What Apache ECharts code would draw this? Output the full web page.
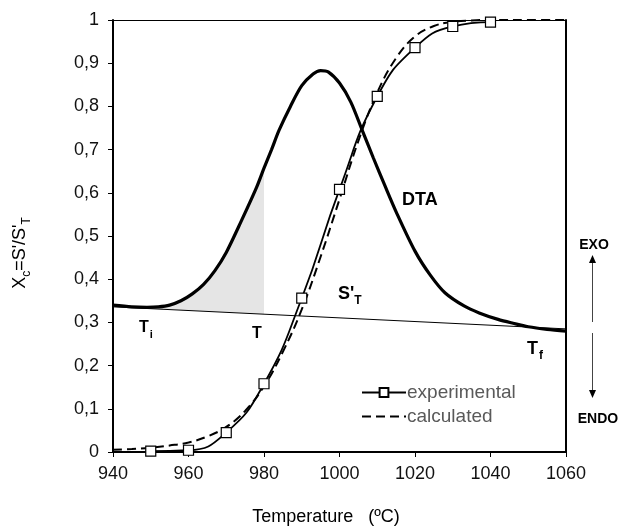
<!DOCTYPE html>
<html>
<head>
<meta charset="utf-8">
<script src="https://cdn.jsdelivr.net/npm/echarts@6/dist/echarts.min.js"></script>
<style>
html,body{margin:0;padding:0;background:#fff;}
#chart{width:622px;height:528px;}
</style>
</head>
<body>
<div id="chart"></div>
<script>
// ---- data ----
const xTicks = [940, 960, 980, 1000, 1020, 1040, 1060];
const yTicks = [0, 0.1, 0.2, 0.3, 0.4, 0.5, 0.6, 0.7, 0.8, 0.9, 1];

const expT = [950, 960, 970, 980, 990, 1000, 1010, 1020, 1030, 1040];
const expX = [0.002, 0.004, 0.045, 0.158, 0.356, 0.608, 0.823, 0.936, 0.985, 0.995];

const calcT = [940, 945, 950, 955, 960, 965, 970, 975, 980, 985, 990, 995, 1000, 1005, 1010, 1015, 1020, 1025, 1030, 1035, 1040, 1050, 1060];
const calcX = [0.005, 0.007, 0.010, 0.015, 0.022, 0.036, 0.058, 0.095, 0.152, 0.232, 0.330, 0.452, 0.585, 0.720, 0.832, 0.912, 0.962, 0.986, 0.996, 0.999, 1.0, 1.0, 1.0];

const dtaT = [940, 945, 949, 952, 955, 958, 961, 964, 967, 970, 974, 978, 980, 982, 984, 987, 990, 993, 995, 997, 1000, 1003, 1006, 1009, 1012, 1015, 1020, 1024, 1028, 1033, 1037, 1042, 1046, 1050, 1055, 1060];
const dtaV = [0.340, 0.336, 0.335, 0.336, 0.340, 0.350, 0.366, 0.388, 0.420, 0.462, 0.535, 0.612, 0.657, 0.700, 0.745, 0.800, 0.848, 0.875, 0.883, 0.880, 0.854, 0.810, 0.745, 0.680, 0.617, 0.556, 0.465, 0.410, 0.368, 0.338, 0.322, 0.307, 0.298, 0.290, 0.284, 0.280];

const baseT = [940, 1060];
const baseV = [0.336, 0.285];

const fillFrom = 952, fillTo = 980;

// ---- helpers ----
const zip = (a, b) => a.map((v, i) => [v, b[i]]);
function baseAt(t) {
  const f = (t - baseT[0]) / (baseT[1] - baseT[0]);
  return baseV[0] + f * (baseV[1] - baseV[0]);
}

const chart = echarts.init(document.getElementById('chart'));
const font = 'Liberation Sans, Arial, sans-serif';

const option = {
  animation: false,
  grid: { left: 113, right: 56, top: 20, bottom: 76, containLabel: false, outerBoundsMode: 'none' },
  xAxis: [{
    type: 'value', min: xTicks[0], max: xTicks[xTicks.length - 1], interval: 20,
    name: 'Temperature   (ºC)', nameLocation: 'middle', nameGap: 56,
    nameTextStyle: { fontFamily: font, fontSize: 18, color: '#000', padding: [0, 27, 0, 0] },
    axisLine: { lineStyle: { color: '#000', width: 2 } },
    axisTick: { show: true, length: 5, lineStyle: { color: '#000', width: 1 } },
    axisLabel: { fontFamily: font, fontSize: 18, color: '#111', margin: 13, formatter: v => String(v) },
    splitLine: { show: false }
  }, {
    type: 'value', position: 'top', min: xTicks[0], max: xTicks[xTicks.length - 1],
    axisLine: { show: true, onZero: false, lineStyle: { color: '#000', width: 1 } },
    axisTick: { show: false }, axisLabel: { show: false }, splitLine: { show: false }
  }],
  yAxis: [{
    type: 'value', min: 0, max: 1, interval: 0.1,
    name: "{a|X}{s|c}{a|=S'/S'}{s|T}", nameLocation: 'middle', nameGap: 84, nameRotate: 90,
    nameTextStyle: {
      padding: [0, 34, 0, 0],
      rich: {
        a: { fontFamily: font, fontSize: 18, color: '#000', lineHeight: 22, verticalAlign: 'bottom' },
        s: { fontFamily: font, fontSize: 12, color: '#000', lineHeight: 22, verticalAlign: 'bottom', padding: [0, 0, -4, 0] }
      }
    },
    axisLine: { show: true, lineStyle: { color: '#000', width: 2 } },
    axisTick: { show: true, length: 5, lineStyle: { color: '#000', width: 1 } },
    axisLabel: { fontFamily: font, fontSize: 18, color: '#111', margin: 14,
      formatter: v => String(Math.round(v * 10) / 10).replace('.', ',') },
    splitLine: { show: false }
  }, {
    type: 'value', position: 'right', min: 0, max: 1,
    axisLine: { show: true, lineStyle: { color: '#000', width: 2 } },
    axisTick: { show: false }, axisLabel: { show: false }, splitLine: { show: false }
  }],
  legend: {
    orient: 'vertical', left: 356, top: 378, itemWidth: 44, itemHeight: 11, itemGap: 5,
    textStyle: { fontFamily: font, fontSize: 19, color: '#595959', padding: [0, 0, 0, -4] },
    data: [
      { name: 'experimental' },
      { name: 'calculated', itemStyle: { opacity: 0 } }
    ]
  },
  series: [
    {
      type: 'custom', name: 'fill', silent: true, z: 1,
      renderItem: function (params, api) {
        const pts = [];
        for (let i = 0; i < dtaT.length; i++) {
          if (dtaT[i] >= fillFrom && dtaT[i] <= fillTo) pts.push(api.coord([dtaT[i], dtaV[i]]));
        }
        pts.push(api.coord([fillTo, baseAt(fillTo)]));
        pts.push(api.coord([fillFrom, baseAt(fillFrom)]));
        return { type: 'polygon', shape: { points: pts, smooth: 0 }, style: { fill: '#e5e5e5', stroke: null } };
      },
      data: [[fillFrom, 0]]
    },
    {
      type: 'line', name: 'baseline', data: zip(baseT, baseV), symbol: 'none', z: 3,
      lineStyle: { color: '#000', width: 1 }
    },
    {
      type: 'line', name: 'DTA', data: zip(dtaT, dtaV), symbol: 'none', smooth: 0.3, z: 4,
      lineStyle: { color: '#000', width: 3.2 }
    },
    {
      type: 'line', name: 'calculated', data: zip(calcT, calcX), symbol: 'none', smooth: 0.4, z: 5,
      lineStyle: { color: '#000', width: 2, type: [9, 5] }, itemStyle: { color: '#000' }
    },
    {
      type: 'line', name: 'experimental', data: zip(expT, expX), smooth: 0.5, z: 6,
      symbol: 'rect', symbolSize: 10, showAllSymbol: true,
      lineStyle: { color: '#000', width: 1.8 },
      itemStyle: { color: '#fff', borderColor: '#000', borderWidth: 1.2 }
    }
  ],
  graphic: [
    { type: 'text', x: 139, y: 326, style: { text: '{a|T}{s|i}', verticalAlign: 'middle',
      rich: { a: { font: 'bold 16px ' + font, fill: '#000', verticalAlign: 'bottom', lineHeight: 20 }, s: { font: 'bold 11px ' + font, verticalAlign: 'bottom', lineHeight: 20, padding: [0,0,-4,1] } } } },
    { type: 'text', x: 252, y: 334, style: { text: 'T', font: 'bold 16px ' + font, fill: '#000', verticalAlign: 'middle' } },
    { type: 'text', x: 207, y: 294, style: { text: "S'", font: 'bold 16px ' + font, fill: '#000', verticalAlign: 'middle' } },
    { type: 'text', x: 338, y: 292, style: { text: "{a|S'}{s|T}", verticalAlign: 'middle',
      rich: { a: { font: 'bold 18px ' + font, fill: '#000', verticalAlign: 'bottom', lineHeight: 22 }, s: { font: 'bold 12px ' + font, verticalAlign: 'bottom', lineHeight: 22, padding: [0,0,-4,0] } } } },
    { type: 'text', x: 402, y: 200, style: { text: 'DTA', font: 'bold 18px ' + font, fill: '#000', verticalAlign: 'middle' } },
    { type: 'text', x: 527, y: 347, style: { text: '{a|T}{s|f}', verticalAlign: 'middle',
      rich: { a: { font: 'bold 18px ' + font, fill: '#000', verticalAlign: 'bottom', lineHeight: 22 }, s: { font: 'bold 12px ' + font, verticalAlign: 'bottom', lineHeight: 22, padding: [0,0,-4,1] } } } },
    { type: 'text', x: 594, y: 245, style: { text: 'EXO', font: 'bold 14px ' + font, fill: '#000', align: 'center', verticalAlign: 'middle' } },
    { type: 'text', x: 598, y: 419, style: { text: 'ENDO', font: 'bold 14px ' + font, fill: '#000', align: 'center', verticalAlign: 'middle' } },
    { type: 'line', shape: { x1: 592.5, y1: 260, x2: 592.5, y2: 322 }, style: { stroke: '#444', lineWidth: 1 } },
    { type: 'line', shape: { x1: 592.5, y1: 333, x2: 592.5, y2: 393 }, style: { stroke: '#444', lineWidth: 1 } },
    { type: 'polygon', shape: { points: [[592.5, 255], [589, 263], [596, 263]] }, style: { fill: '#000' } },
    { type: 'polygon', shape: { points: [[592.5, 398], [589, 390], [596, 390]] }, style: { fill: '#000' } }
  ]
};
chart.setOption(option);
</script>
</body>
</html>
